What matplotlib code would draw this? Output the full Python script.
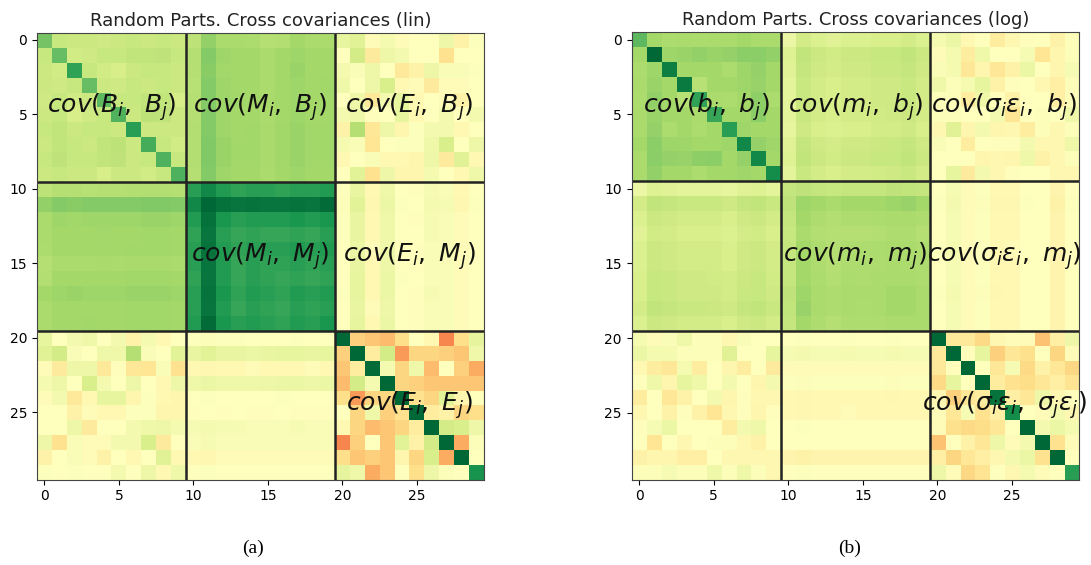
import numpy as np
import matplotlib
matplotlib.use("Agg")
import matplotlib.pyplot as plt

# ---- linear parameters: blocks of the 30x30 covariance (B, M, E) ----
lin_BB = [
    [0.55],
    [0.27, 0.60],
    [0.25, 0.23, 0.74],
    [0.25, 0.24, 0.27, 0.60],
    [0.24, 0.27, 0.23, 0.25, 0.62],
    [0.25, 0.27, 0.21, 0.24, 0.27, 0.65],
    [0.27, 0.29, 0.25, 0.27, 0.27, 0.25, 0.76],
    [0.25, 0.29, 0.27, 0.25, 0.29, 0.31, 0.25, 0.68],
    [0.27, 0.30, 0.27, 0.27, 0.29, 0.30, 0.25, 0.27, 0.66],
    [0.25, 0.27, 0.25, 0.25, 0.21, 0.25, 0.25, 0.23, 0.27, 0.66],
]
lin_MM = [
    [0.76],
    [0.86, 1.00],
    [0.78, 0.96, 0.80],
    [0.74, 0.94, 0.76, 0.72],
    [0.76, 0.95, 0.78, 0.74, 0.76],
    [0.76, 0.94, 0.78, 0.72, 0.76, 0.74],
    [0.74, 0.94, 0.78, 0.72, 0.76, 0.74, 0.72],
    [0.76, 0.95, 0.80, 0.74, 0.78, 0.76, 0.74, 0.78],
    [0.76, 0.94, 0.78, 0.72, 0.76, 0.74, 0.72, 0.76, 0.74],
    [0.78, 0.98, 0.80, 0.76, 0.78, 0.76, 0.74, 0.78, 0.76, 0.80],
]
lin_EE = [
    [1.00],
    [-0.26, 1.00],
    [-0.30, -0.12, 0.98],
    [-0.34, 0.22, 0.05, 1.00],
    [-0.20, -0.46, -0.24, -0.24, 1.00],
    [0.00, -0.24, 0.08, -0.26, -0.18, 1.00],
    [-0.04, -0.24, -0.34, -0.30, -0.24, -0.12, 1.00],
    [-0.52, -0.26, 0.00, -0.30, 0.15, -0.08, 0.22, 1.00],
    [-0.20, -0.30, -0.26, -0.30, -0.06, -0.24, 0.20, -0.40, 1.00],
    [0.13, 0.08, -0.40, -0.30, 0.00, -0.20, 0.09, 0.02, 0.00, 0.82],
]
# rows B, columns M
lin_BM = [
    [0.31, 0.46, 0.38, 0.38, 0.37, 0.34, 0.35, 0.40, 0.38, 0.38],
    [0.34, 0.50, 0.42, 0.40, 0.40, 0.38, 0.40, 0.42, 0.40, 0.40],
    [0.34, 0.49, 0.41, 0.40, 0.40, 0.38, 0.40, 0.43, 0.40, 0.40],
    [0.33, 0.50, 0.42, 0.40, 0.40, 0.38, 0.40, 0.42, 0.40, 0.41],
    [0.34, 0.50, 0.42, 0.41, 0.40, 0.39, 0.40, 0.42, 0.40, 0.40],
    [0.34, 0.50, 0.42, 0.40, 0.40, 0.38, 0.40, 0.42, 0.40, 0.40],
    [0.35, 0.50, 0.42, 0.40, 0.41, 0.39, 0.41, 0.43, 0.41, 0.41],
    [0.35, 0.51, 0.43, 0.41, 0.41, 0.39, 0.41, 0.43, 0.41, 0.41],
    [0.35, 0.51, 0.43, 0.41, 0.41, 0.39, 0.41, 0.43, 0.41, 0.41],
    [0.34, 0.50, 0.42, 0.40, 0.40, 0.38, 0.40, 0.42, 0.40, 0.40],
]
# rows E, columns B
lin_EB = [
    [0.12, 0.00, 0.06, 0.08, 0.00, 0.06, -0.08, 0.05, -0.04, 0.00],
    [0.16, 0.22, 0.03, 0.00, 0.08, 0.08, 0.34, 0.03, 0.00, 0.15],
    [-0.02, -0.13, 0.09, 0.09, -0.14, -0.01, -0.15, -0.16, 0.03, -0.18],
    [0.05, 0.09, 0.00, 0.20, 0.06, 0.00, 0.09, 0.00, -0.04, 0.09],
    [-0.02, 0.06, -0.14, -0.04, 0.12, 0.12, -0.06, 0.01, -0.04, -0.06],
    [0.00, 0.00, -0.08, -0.02, -0.04, -0.04, 0.01, 0.01, -0.06, -0.06],
    [0.00, 0.00, 0.09, -0.13, 0.00, 0.00, 0.06, 0.08, 0.09, 0.05],
    [0.09, -0.18, 0.03, -0.02, -0.02, 0.06, 0.06, 0.20, -0.13, 0.00],
    [-0.08, 0.00, 0.03, -0.02, -0.08, 0.00, -0.04, 0.00, 0.16, -0.04],
    [0.01, 0.00, 0.01, 0.00, 0.00, 0.06, 0.00, 0.09, -0.04, 0.08],
]
# rows E, columns M
lin_EM = [
    [0.01, 0.02, 0.01, 0.01, 0.00, 0.00, 0.00, 0.01, 0.00, 0.00],
    [0.11, 0.15, 0.11, 0.11, 0.10, 0.11, 0.12, 0.12, 0.11, 0.12],
    [-0.04, -0.05, -0.04, -0.04, -0.03, -0.04, -0.04, -0.04, -0.03, -0.04],
    [0.08, 0.10, 0.08, 0.08, 0.08, 0.09, 0.10, 0.10, 0.09, 0.10],
    [0.00, 0.01, 0.00, 0.00, 0.00, 0.00, 0.01, 0.00, 0.00, 0.00],
    [-0.01, 0.00, -0.01, 0.00, -0.01, -0.01, 0.00, -0.01, -0.01, -0.01],
    [0.04, 0.05, 0.04, 0.04, 0.03, 0.03, 0.03, 0.04, 0.03, 0.03],
    [0.03, 0.04, 0.03, 0.03, 0.03, 0.03, 0.03, 0.03, 0.03, 0.03],
    [-0.04, -0.05, -0.03, -0.03, -0.03, -0.03, -0.03, -0.03, -0.03, -0.03],
    [0.00, 0.01, 0.00, 0.00, 0.00, 0.00, 0.00, 0.00, 0.00, 0.00],
]

# ---- log parameters ----
log_BB = [
    [0.62],
    [0.40, 1.00],
    [0.37, 0.42, 0.90],
    [0.38, 0.43, 0.40, 0.92],
    [0.37, 0.46, 0.40, 0.33, 0.74],
    [0.38, 0.43, 0.40, 0.40, 0.38, 0.72],
    [0.38, 0.45, 0.37, 0.40, 0.37, 0.40, 0.76],
    [0.40, 0.48, 0.42, 0.42, 0.40, 0.40, 0.42, 0.86],
    [0.38, 0.48, 0.45, 0.44, 0.47, 0.48, 0.40, 0.45, 0.86],
    [0.38, 0.46, 0.40, 0.40, 0.37, 0.40, 0.40, 0.42, 0.40, 0.84],
]
log_MM = [
    [0.28],
    [0.30, 0.42],
    [0.28, 0.40, 0.36],
    [0.27, 0.38, 0.35, 0.34],
    [0.28, 0.40, 0.36, 0.34, 0.36],
    [0.28, 0.40, 0.36, 0.34, 0.36, 0.36],
    [0.28, 0.40, 0.37, 0.35, 0.37, 0.36, 0.38],
    [0.30, 0.42, 0.38, 0.36, 0.38, 0.38, 0.38, 0.40],
    [0.29, 0.44, 0.38, 0.36, 0.38, 0.37, 0.38, 0.40, 0.40],
    [0.28, 0.40, 0.36, 0.34, 0.36, 0.36, 0.36, 0.38, 0.38, 0.38],
]
log_EE = [
    [1.00],
    [-0.14, 1.00],
    [-0.14, -0.01, 1.00],
    [-0.22, 0.12, 0.00, 1.00],
    [-0.05, -0.26, -0.15, -0.12, 0.95],
    [-0.02, -0.15, 0.04, -0.18, -0.10, 0.84],
    [-0.03, -0.19, -0.22, -0.21, -0.15, 0.00, 1.00],
    [-0.32, 0.00, -0.08, -0.15, 0.09, -0.02, 0.06, 1.00],
    [-0.10, -0.24, -0.15, -0.10, -0.05, 0.06, 0.10, -0.18, 1.00],
    [0.09, -0.03, -0.23, -0.17, 0.00, -0.05, 0.05, -0.02, 0.00, 0.76],
]
log_BM = [
    [0.10, 0.22, 0.18, 0.16, 0.18, 0.18, 0.20, 0.20, 0.22, 0.18],
    [0.17, 0.29, 0.25, 0.23, 0.25, 0.25, 0.27, 0.27, 0.29, 0.25],
    [0.16, 0.28, 0.24, 0.22, 0.24, 0.24, 0.26, 0.26, 0.28, 0.24],
    [0.14, 0.26, 0.22, 0.20, 0.22, 0.22, 0.24, 0.24, 0.26, 0.22],
    [0.14, 0.26, 0.22, 0.20, 0.22, 0.22, 0.24, 0.24, 0.26, 0.22],
    [0.14, 0.26, 0.22, 0.20, 0.22, 0.22, 0.23, 0.24, 0.25, 0.22],
    [0.12, 0.24, 0.20, 0.18, 0.20, 0.20, 0.22, 0.22, 0.24, 0.20],
    [0.16, 0.28, 0.24, 0.22, 0.24, 0.24, 0.25, 0.26, 0.28, 0.24],
    [0.17, 0.29, 0.25, 0.23, 0.25, 0.25, 0.27, 0.27, 0.29, 0.25],
    [0.14, 0.26, 0.22, 0.20, 0.22, 0.22, 0.23, 0.24, 0.26, 0.22],
]
log_EB = [
    [0.05, -0.02, 0.03, 0.08, 0.02, 0.02, -0.05, 0.03, 0.00, 0.00],
    [0.10, 0.05, 0.05, 0.02, 0.02, 0.02, 0.16, 0.00, 0.00, 0.12],
    [-0.04, -0.12, -0.15, 0.05, -0.12, 0.00, -0.06, -0.12, 0.00, -0.13],
    [0.00, 0.08, -0.06, 0.12, 0.08, 0.00, 0.06, 0.00, -0.06, 0.06],
    [-0.12, 0.00, -0.15, -0.08, 0.00, 0.06, -0.06, -0.01, -0.05, -0.05],
    [-0.05, 0.00, -0.08, -0.01, -0.08, -0.16, -0.05, -0.01, -0.06, -0.01],
    [-0.01, 0.04, 0.10, 0.00, 0.00, 0.00, -0.12, 0.06, 0.08, 0.00],
    [0.00, -0.16, 0.00, -0.05, 0.00, 0.02, 0.02, -0.05, -0.08, 0.00],
    [-0.08, -0.06, -0.06, -0.10, -0.10, 0.00, -0.05, -0.05, -0.05, -0.05],
    [0.02, 0.02, 0.04, 0.02, 0.02, 0.08, 0.02, 0.08, 0.02, -0.05],
]
log_EM = [
    [0.00, 0.01, 0.00, 0.00, 0.01, 0.00, 0.00, 0.01, 0.00, 0.00],
    [0.04, 0.06, 0.04, 0.04, 0.05, 0.04, 0.04, 0.05, 0.04, 0.04],
    [-0.02, -0.03, -0.02, -0.02, -0.02, -0.02, -0.02, -0.03, -0.02, -0.02],
    [0.01, 0.02, 0.01, 0.01, 0.01, 0.01, 0.01, 0.02, 0.01, 0.01],
    [-0.04, -0.05, -0.04, -0.04, -0.04, -0.04, -0.04, -0.05, -0.04, -0.04],
    [-0.04, -0.05, -0.04, -0.04, -0.03, -0.04, -0.04, -0.04, -0.04, -0.04],
    [0.00, 0.01, 0.00, 0.00, 0.00, 0.00, 0.00, 0.00, 0.00, 0.00],
    [0.00, 0.00, 0.00, 0.00, 0.00, 0.00, 0.00, 0.00, 0.00, 0.00],
    [-0.07, -0.08, -0.07, -0.07, -0.07, -0.07, -0.07, -0.07, -0.07, -0.07],
    [0.00, 0.01, 0.00, 0.00, 0.00, 0.00, 0.00, 0.00, 0.00, 0.00],
]

lin_labels = [
    (4.5, 4.5, r"$cov(B_i,\ B_j)$"), (14.5, 4.5, r"$cov(M_i,\ B_j)$"),
    (24.5, 4.5, r"$cov(E_i,\ B_j)$"), (14.5, 14.5, r"$cov(M_i,\ M_j)$"),
    (24.5, 14.5, r"$cov(E_i,\ M_j)$"), (24.5, 24.5, r"$cov(E_i,\ E_j)$"),
]
log_labels = [
    (4.5, 4.5, r"$cov(b_i,\ b_j)$"), (14.5, 4.5, r"$cov(m_i,\ b_j)$"),
    (24.5, 4.5, r"$cov(\sigma_i\epsilon_i,\ b_j)$"),
    (14.5, 14.5, r"$cov(m_i,\ m_j)$"),
    (24.5, 14.5, r"$cov(\sigma_i\epsilon_i,\ m_j)$"),
    (24.5, 24.5, r"$cov(\sigma_i\epsilon_i,\ \sigma_j\epsilon_j)$"),
]


def sym(tri):
    """Square symmetric matrix from its lower triangle rows"""
    n = len(tri)
    m = np.zeros((n, n))
    for i, row in enumerate(tri):
        for j, v in enumerate(row):
            m[i, j] = v
            m[j, i] = v
    return m


def full_cov(bb, mm, ee, bm, eb, em):
    bb, mm, ee = sym(bb), sym(mm), sym(ee)
    bm, eb, em = np.array(bm), np.array(eb), np.array(em)
    return np.block([[bb, bm, eb.T],
                     [bm.T, mm, em.T],
                     [eb, em, ee]])


def draw(ax, cov, title, labels):
    ax.imshow(cov, cmap="RdYlGn", vmin=-1, vmax=1, interpolation="nearest")
    for p in (9.5, 19.5):
        ax.axhline(p, color="#222222", lw=1.8)
        ax.axvline(p, color="#222222", lw=1.8)
    for x, y, s in labels:
        ax.text(x, y, s, ha="center", va="center", fontsize=18,
                color="#111111")
    ax.set_xticks([0, 5, 10, 15, 20, 25])
    ax.set_yticks([0, 5, 10, 15, 20, 25])
    ax.tick_params(labelsize=10)
    for sp in ax.spines.values():
        sp.set_color("#444444")
    ax.set_title(title, fontsize=13, pad=5, color="#222222")


fig = plt.figure(figsize=(10.91, 5.65), dpi=100)
ax1 = fig.add_axes([0.0339, 0.1504, 0.4097, 0.7929])
ax2 = fig.add_axes([0.5790, 0.1504, 0.4100, 0.7929])

draw(ax1, full_cov(lin_BB, lin_MM, lin_EE, lin_BM, lin_EB, lin_EM),
     "Random Parts. Cross covariances (lin)", lin_labels)
draw(ax2, full_cov(log_BB, log_MM, log_EE, log_BM, log_EB, log_EM),
     "Random Parts. Cross covariances (log)", log_labels)

fig.text(0.232, 0.022, "(a)", ha="center", family="Liberation Serif", fontsize=14)
fig.text(0.779, 0.022, "(b)", ha="center", family="Liberation Serif", fontsize=14)

fig.savefig("out.png", dpi=100)
